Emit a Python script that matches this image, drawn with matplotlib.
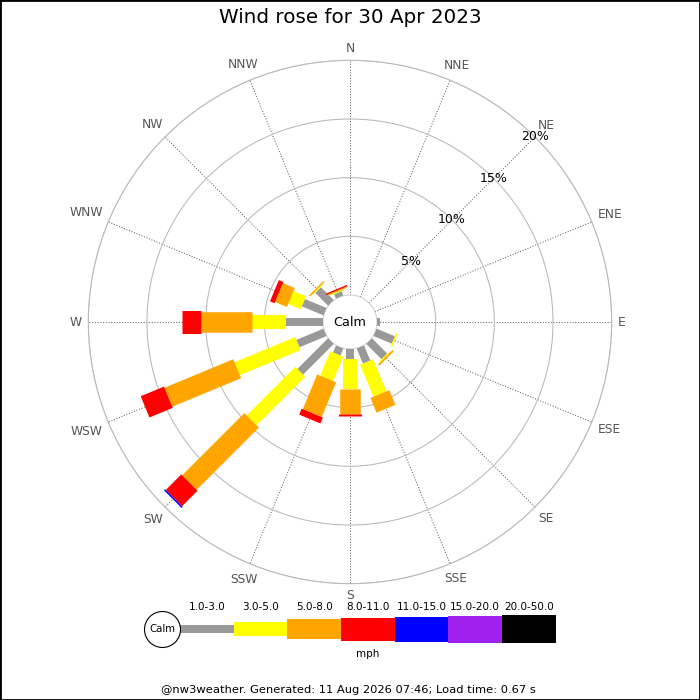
import numpy as np
import matplotlib
matplotlib.use("Agg")
import matplotlib.pyplot as plt
from matplotlib.patches import Rectangle

# ---------------- data ----------------
directions = ['N', 'NNE', 'NE', 'ENE', 'E', 'ESE', 'SE', 'SSE',
              'S', 'SSW', 'SW', 'WSW', 'W', 'WNW', 'NW', 'NNW']
speed_bands = ['1.0-3.0', '3.0-5.0', '5.0-8.0', '8.0-11.0',
               '11.0-15.0', '15.0-20.0', '20.0-50.0']
band_colors = ['#999999', '#ffff00', '#ffa500', '#ff0000',
               '#0000ff', '#a020f0', '#000000']
# percentage of time per direction, per speed band
pct_1_3 = [0, 0, 0, 0, 0.25, 1.7, 1.85, 1.4, 0.88, 0.65, 3.7, 2.5, 3.18, 2.0, 1.55, 0.4]
pct_3_5 = [0, 0, 0, 0, 0, 0.15, 0.1, 2.95, 2.55, 2.25, 5.85, 5.6, 2.89, 1.15, 0.1, 0.1]
pct_5_8 = [0, 0, 0, 0, 0, 0, 0.15, 1.35, 2.1, 3.2, 7.5, 6.35, 4.35, 1.1, 0.12, 0.1]
pct_8_11 = [0, 0, 0, 0, 0, 0, 0, 0, 0.2, 0.55, 1.87, 2.15, 1.62, 0.42, 0, 0.12]
pct_11_15 = [0, 0, 0, 0, 0, 0, 0, 0, 0, 0, 0.13, 0, 0, 0, 0, 0]
pct_15_20 = [0] * 16
pct_20_50 = [0] * 16
ring_values = [5, 10, 15, 20]
title = 'Wind rose for 30 Apr 2023'
footer = '@nw3weather. Generated: 11 Aug 2026 07:46; Load time: 0.67 s'
units = 'mph'

bands = [pct_1_3, pct_3_5, pct_5_8, pct_8_11, pct_11_15, pct_15_20, pct_20_50]
band_width_px = [8, 14, 20.5, 23, 25, 27, 28]

# ---------------- figure ----------------
DPI = 100
fig = plt.figure(figsize=(7, 7), dpi=DPI)
fig.patch.set_facecolor('white')
PX = 72.0 / DPI  # points per pixel

cx, cy = 350, 322
R_outer = 261.7
calm_r = 27.0
ax = fig.add_axes([(cx - R_outer) / 700, (700 - cy - R_outer) / 700,
                   2 * R_outer / 700, 2 * R_outer / 700], projection='polar')
ax.set_theta_zero_location('N')
ax.set_theta_direction(-1)
ax.set_ylim(0, ring_values[-1])
px_per_unit = (R_outer - calm_r) / ring_values[-1]
ax.set_rorigin(-calm_r / px_per_unit)

angles_deg = np.arange(len(directions)) * 360.0 / len(directions)
thetas = np.deg2rad(angles_deg)
ax.set_thetagrids(angles_deg, labels=[''] * len(directions))
ax.set_rgrids(ring_values, labels=[''] * len(ring_values))
ax.yaxis.grid(True, color='#b8b8b8', lw=0.75, linestyle='-')
ax.xaxis.grid(True, color='#666666', lw=0.75, linestyle=(0, (1, 1.6)))
ax.spines['polar'].set_color('#b8b8b8')
ax.spines['polar'].set_linewidth(0.75)
ax.spines['inner'].set_color('#cccccc')
ax.spines['inner'].set_linewidth(0.7)
ax.tick_params(axis='both', length=0)

# stacked bars
for i, th in enumerate(thetas):
    r0 = 0.0
    for band, col, w in zip(bands, band_colors, band_width_px):
        v = band[i]
        if v > 0:
            ax.plot([th, th], [r0, r0 + v], color=col, lw=w * PX,
                    solid_capstyle='butt', zorder=3)
        r0 += v

# calm label
ax.text(0.5, 0.5, 'Calm', transform=ax.transAxes, ha='center', va='center',
        fontsize=9.2, color='black', zorder=5)

# percentage labels along NE
for rv in ring_values:
    ax.text(np.deg2rad(45), rv, f'{rv}%', ha='center', va='center',
            fontsize=9, color='black', zorder=6)

# direction labels placed just outside the outer ring
renderer = fig.canvas.get_renderer()
margin_px = 6.5
for th, lab in zip(thetas, directions):
    t = ax.annotate(lab, xy=(th, ring_values[-1]), xytext=(0, 0),
                    textcoords='offset points', ha='center', va='center',
                    fontsize=8.8, color='#555555', annotation_clip=False)
    bb = t.get_window_extent(renderer)
    w, h = bb.width, bb.height
    s, c = np.sin(th), np.cos(th)
    d = margin_px + abs(s) * w / 2 + abs(c) * (h * 0.8) / 2
    t.xyann = (s * d * PX, c * d * PX)

# title and footer
fig.text(0.5, 1 - 17.5 / 700, title, ha='center', va='center', fontsize=14.3)
fig.text(348 / 700, 1 - 690 / 700, footer, ha='center', va='center', fontsize=8.25)

# ---------------- legend ----------------
seg_px = 53.67
leg_x0 = 180
lax = fig.add_axes([140 / 700, 1 - 665 / 700, 420 / 700, 70 / 700])
lax.set_xlim((140 - leg_x0) / seg_px, (560 - leg_x0) / seg_px)
lax.set_ylim(-36, 34)
lax.axis('off')
for k, (lab, col, w) in enumerate(zip(speed_bands, band_colors, band_width_px)):
    lax.bar(k, w, bottom=-w / 2, width=1, align='edge', color=col, lw=0)
    lax.text(k + 0.5, 22, lab, ha='center', va='center', fontsize=7.5)
lax.plot([(162 - leg_x0) / seg_px], [0], marker='o', ms=36 * PX,
         mfc='white', mec='black', mew=0.8, zorder=4)
lax.text((162 - leg_x0) / seg_px, 0, 'Calm', ha='center', va='center',
         fontsize=7.3, zorder=5)
lax.text(len(speed_bands) / 2, -25, units, ha='center', va='center', fontsize=7.5)

# outer frame
fig.add_artist(Rectangle((0, 0), 1, 1, transform=fig.transFigure, fill=False,
                         ec='black', lw=2))

fig.savefig('out.png', dpi=DPI, facecolor='white')
